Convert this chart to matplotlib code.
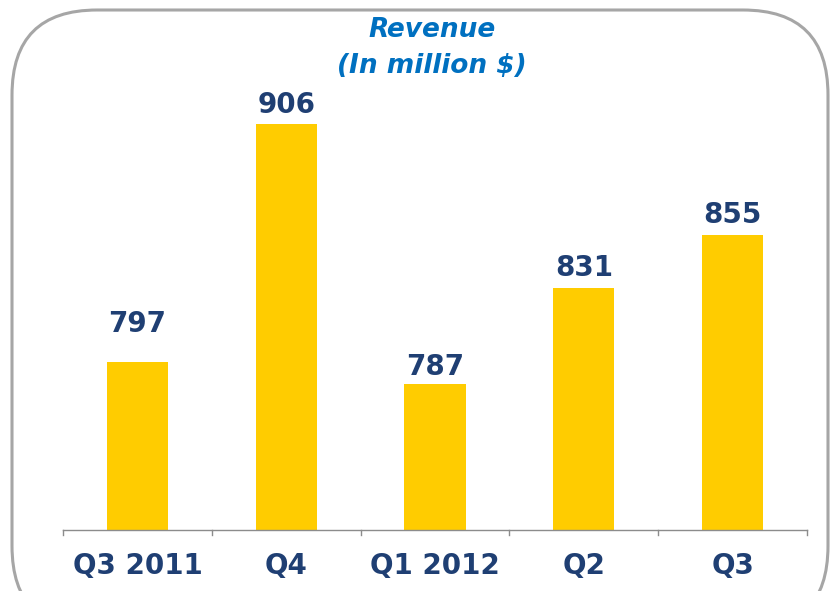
import matplotlib.pyplot as plt
from matplotlib.patches import FancyBboxPatch
from matplotlib.transforms import IdentityTransform

# Data
quarters = ['Q3 2011', 'Q4', 'Q1 2012', 'Q2', 'Q3']
revenue = [797, 906, 787, 831, 855]
label_offsets = [22, 8, 7, 9, 9]  # points from bar top to text baseline

bar_color = '#FFCC00'
label_color = '#1F3F73'
title_color = '#0070C0'

fig = plt.figure(figsize=(8.31, 5.91), dpi=100)

# Rounded frame around the chart (pixel coords)
frame = FancyBboxPatch((12 + 85, -40 + 85), 816 - 170, 621 - 170,
                       boxstyle='round,pad=85',
                       transform=IdentityTransform(),
                       facecolor='none', edgecolor='#A6A6A6', linewidth=2.2)
fig.patches.append(frame)

ax = fig.add_axes([63 / 831, 61 / 591, 744 / 831, 450 / 591])
x = range(len(quarters))
ax.bar(x, revenue, width=0.41, color=bar_color, zorder=2)
ax.set_ylim(720.5, 926)
ax.set_xlim(-0.5, len(quarters) - 0.5)

for xi, v, off in zip(x, revenue, label_offsets):
    ax.annotate(str(v), (xi, v), xytext=(0, off), textcoords='offset points',
                ha='center', va='baseline', fontsize=20, fontweight='bold',
                color=label_color)

# Axis styling
for s in ['top', 'right', 'left']:
    ax.spines[s].set_visible(False)
ax.spines['bottom'].set_color('#8C8C8C')
ax.spines['bottom'].set_linewidth(1)
ax.set_yticks([])
ax.set_xticks(x)
ax.set_xticklabels(quarters, fontsize=20, fontweight='bold', color=label_color)
ax.tick_params(axis='x', length=0, pad=16)
for b in [i - 0.5 for i in range(len(quarters) + 1)]:
    ax.plot([b, b], [720.5, 720.5 - 5 / 2.19], color='#8C8C8C', lw=1,
            clip_on=False)

fig.text(432 / 831, 1 - 30 / 591, 'Revenue', ha='center', va='center',
         fontsize=19, fontweight='bold', fontstyle='italic', color=title_color)
fig.text(432 / 831, 1 - 66 / 591, '(In million $)', ha='center', va='center',
         fontsize=19, fontweight='bold', fontstyle='italic', color=title_color)

fig.savefig('out.png', dpi=100)
